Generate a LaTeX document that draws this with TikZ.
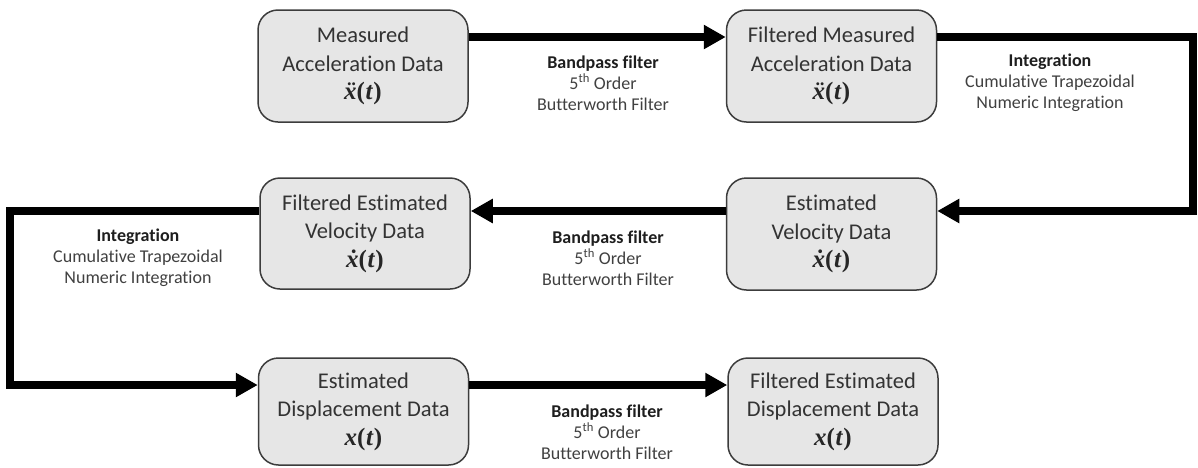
\documentclass[tikz,border=0pt]{standalone}
\usepackage{fontspec}
\setmainfont{Carlito}[Ligatures=NoCommon]
\newfontfamily\formfont{Liberation Serif}
\usetikzlibrary{arrows.meta}
\definecolor{boxfill}{HTML}{E6E6E6}
\definecolor{boxline}{HTML}{3C3C3C}
\definecolor{boxtext}{HTML}{333333}
\definecolor{labtext}{HTML}{404040}
\definecolor{labbold}{HTML}{1E1E1E}
\tikzset{
  databox/.style={draw=boxline, fill=boxfill, line width=1.5pt, rounded corners=20pt,
    minimum width=210pt, minimum height=112pt, align=center, inner sep=0pt,
    text=boxtext, font=\fontsize{22.5}{28.5}\selectfont},
  steplabel/.style={align=center, inner sep=0pt, text=labtext, font=\fontsize{18}{21}\selectfont},
  flow/.style={line width=8pt, line join=miter, -{Triangle[length=22pt,width=23pt]}},
}
\newcommand{\lb}[1]{{\bfseries\color{labbold}#1}}
% formula x(t) with optional accent: #1 = the x glyph (with accent)
\newcommand{\formx}[1]{{\formfont\fontsize{25}{28.5}\selectfont\color{black!85}\bfseries{\itshape #1}(\kern0.5pt{\itshape t}\kern1pt)}}
\begin{document}
\begin{tikzpicture}[x=1pt,y=-1pt]
\useasboundingbox (0,0) rectangle (1198,467);
% boxes
\node[databox] (B1) at (363,66) {Measured\\Acceleration Data\\\formx{\"x}};
\node[databox] (B2) at (831.5,66) {Filtered Measured\\Acceleration Data\\\formx{\"x}};
\node[databox] (B3) at (831.5,234) {Estimated\\Velocity Data\\\formx{\.x}};
\node[databox, minimum height=111pt] (B4) at (365,233.5) {Filtered Estimated\\Velocity Data\\\formx{\.x}};
\node[databox, minimum height=107pt] (B5) at (363.5,411.5) {Estimated\\Displacement Data\\\formx{x}};
\node[databox, minimum height=107pt] (B6) at (833,411.5) {Filtered Estimated\\Displacement Data\\\formx{x}};
% routing coordinates
\coordinate (r1) at (0,37);
\coordinate (r2) at (0,211);
\coordinate (r3) at (0,385);
\coordinate (cR1) at (1193,37);
\coordinate (cR2) at (1193,211);
\coordinate (cL1) at (10,211);
\coordinate (cL2) at (10,385);
% connectors
\draw[flow] (B1.east |- r1) -- (B2.west |- r1);
\draw[flow] (B2.east |- r1) -- (cR1) -- (cR2) -- (B3.east |- r2);
\draw[flow] (B3.west |- r2) -- (B4.east |- r2);
\draw[flow] (B4.west |- r2) -- (cL1) -- (cL2) -- (B5.west |- r3);
\draw[flow] (B5.east |- r3) -- (B6.west |- r3);
% labels
\node[steplabel] (L1) at (603,83) {\lb{Bandpass filter}\\5\textsuperscript{th} Order\\Butterworth Filter};
\node[steplabel] (L2) at (1050,83) {\lb{Integration}\\Cumulative Trapezoidal\\Numeric Integration};
\node[steplabel] (L3) at (608,258) {\lb{Bandpass filter}\\5\textsuperscript{th} Order\\Butterworth Filter};
\node[steplabel] (L4) at (138,258) {\lb{Integration}\\Cumulative Trapezoidal\\Numeric Integration};
\node[steplabel] (L5) at (607,432) {\lb{Bandpass filter}\\5\textsuperscript{th} Order\\Butterworth Filter};
\end{tikzpicture}
\end{document}
